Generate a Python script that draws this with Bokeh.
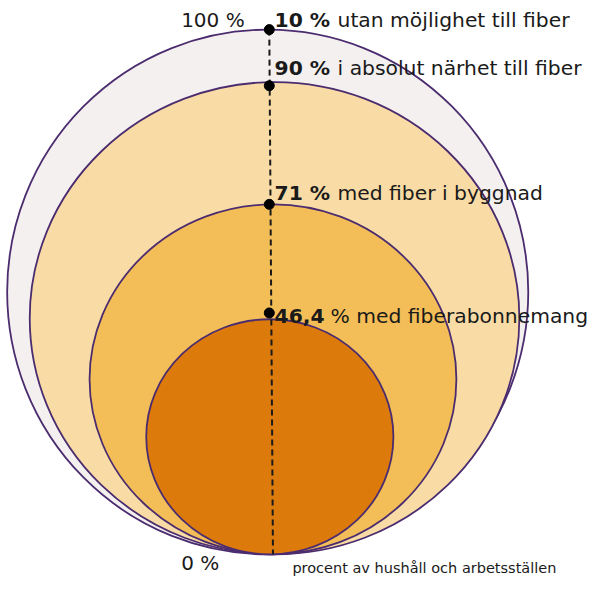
from bokeh.plotting import figure
from bokeh.models import Range1d
from bokeh.core.properties import value
from bokeh.embed import file_html
from bokeh.resources import INLINE

# ---- data (percent of households and workplaces) ----
shares_bold = ["10 %", "90 %", "71 %", "46,4"]
shares_text = ["utan möjlighet till fiber", "i absolut närhet till fiber",
               "med fiber i byggnad", "% med fiberabonnemang"]
# drawn circle sizes (in % of outer circle height)
ring_height = [100.0, 90.0, 66.7, 44.8]
ring_width = [99.3, 93.3, 69.9, 47.1]
ring_cx = [-0.1, 1.2, 0.9, 0.3]
ring_colors = ["#F4F0EF", "#F9DCA5", "#F3BE57", "#DC7A0C"]
# marker levels on the vertical dashed axis
marker_y = [100.0, 89.3, 66.7, 46.0]
scale_labels = ["100 %", "0 %"]
unit_label = "procent av hushåll och arbetsställen"

FONT = "DejaVu Sans"

p = figure(width=596, height=584, output_backend="svg", toolbar_location=None,
           x_axis_type=None, y_axis_type=None, min_border=0,
           x_range=Range1d(-51.02, 62.55), y_range=Range1d(-5.75, 105.55))
p.outline_line_color = None
p.grid.visible = False
p.background_fill_color = "white"

# nested circles, bottom aligned at 0
for cx, w, h, c in zip(ring_cx, ring_width, ring_height, ring_colors):
    p.ellipse(x=cx, y=h / 2, width=w, height=h, fill_color=c,
              line_color="#4B2C6F", line_width=1.8)

# vertical dashed guide
p.segment(x0=0.2, y0=ring_height[0], x1=0.9, y1=0,
          line_color="#1a1a1a", line_width=2, line_dash="6 4")

# markers
p.scatter(x=[0.2] * len(marker_y), y=marker_y, size=10, color="black")

# labels (bold number + regular text)
label_x = 1.2
label_y = [101.85, 92.6, 68.8, 45.5]
bold_w = [63, 63, 63, 56]
for b, t, ly, bw in zip(shares_bold, shares_text, label_y, bold_w):
    p.text(x=[label_x], y=[ly], text=[b], text_font=value(FONT),
           text_font_style="bold", text_font_size="20.3px",
           text_color="#1a1a1a", text_baseline="alphabetic")
    p.text(x=[label_x], y=[ly], text=[t], x_offset=bw, text_font=value(FONT),
           text_font_size="20.3px", text_color="#1a1a1a",
           text_baseline="alphabetic")

# scale labels on the left
p.text(x=[-16.6, -16.6], y=[101.85, -1.66], text=scale_labels,
       text_font=value(FONT), text_font_size="20px", text_color="#1a1a1a",
       text_baseline="alphabetic")

p.text(x=[4.6], y=[-2.6], text=[unit_label], text_font=value(FONT),
       text_font_size="14.5px", text_color="#1a1a1a", text_baseline="alphabetic")

open("out.html", "w").write(file_html(p, INLINE))
